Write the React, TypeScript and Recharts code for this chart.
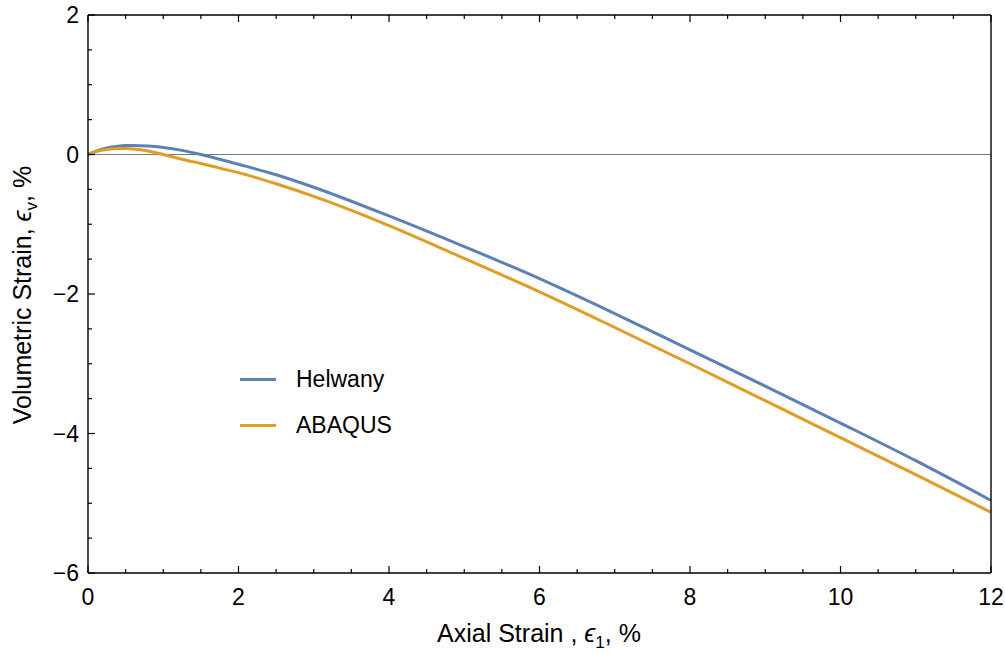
import React from "react"
import { LineChart, Line, XAxis, YAxis, ReferenceLine } from "recharts"

// axial strain (%) sample points
const strainPts = [0, 0.1, 0.2, 0.3, 0.4, 0.5, 0.6, 0.8, 1.0, 1.25, 1.5, 1.75, 2, 2.5, 3, 3.5, 4, 5, 6, 7, 8, 9, 10, 11, 12]
// volumetric strain (%)
const helwanyVals = [0, 0.045, 0.08, 0.105, 0.12, 0.128, 0.13, 0.121, 0.101, 0.059, 0.0, -0.068, -0.14, -0.29, -0.47, -0.67, -0.88, -1.32, -1.78, -2.28, -2.8, -3.32, -3.85, -4.39, -4.96]
const abaqusVals = [0, 0.038, 0.063, 0.078, 0.085, 0.085, 0.08, 0.051, 0.0, -0.068, -0.13, -0.195, -0.26, -0.42, -0.6, -0.8, -1.02, -1.49, -1.97, -2.48, -3.0, -3.53, -4.06, -4.59, -5.13]

const xTicks = [0, 0.5, 1, 1.5, 2, 2.5, 3, 3.5, 4, 4.5, 5, 5.5, 6, 6.5, 7, 7.5, 8, 8.5, 9, 9.5, 10, 10.5, 11, 11.5, 12]
const yTicks = [-6, -5.5, -5, -4.5, -4, -3.5, -3, -2.5, -2, -1.5, -1, -0.5, 0, 0.5, 1, 1.5, 2]

const seriesNames = ["Helwany", "ABAQUS"]
const colors = ["#5E81B5", "#E19C24"]

const data = strainPts.map((x, i) => ({ x, helwany: helwanyVals[i], abaqus: abaqusVals[i] }))

const FONT = "'Liberation Sans', Arial, sans-serif"
const isMajor = (v: number) => Math.abs(v % 2) < 1e-9
const fmt = (v: number) => (v < 0 ? `\u2212${Math.abs(v)}` : `${v}`)

function BottomTick(props: any) {
  const { x, y, payload } = props
  const v = payload.value
  const major = isMajor(v)
  return (
    <g>
      <line x1={x} x2={x} y1={y} y2={y - (major ? 7 : 4)} stroke="#000" strokeWidth={1.2} />
      {major && (
        <text x={x} y={y + 32} textAnchor="middle" fontSize={23} fontFamily={FONT} fill="#000">
          {v}
        </text>
      )}
    </g>
  )
}

function TopTick(props: any) {
  const { x, y, payload } = props
  const major = isMajor(payload.value)
  return <line x1={x} x2={x} y1={y} y2={y + (major ? 7 : 4)} stroke="#000" strokeWidth={1.2} />
}

function LeftTick(props: any) {
  const { x, y, payload } = props
  const v = payload.value
  const major = isMajor(v)
  return (
    <g>
      <line x1={x} x2={x + (major ? 7 : 4)} y1={y} y2={y} stroke="#000" strokeWidth={1.2} />
      {major && (
        <text x={x - 9} y={y + 8} textAnchor="end" fontSize={23} fontFamily={FONT} fill="#000">
          {fmt(v)}
        </text>
      )}
    </g>
  )
}

function RightTick(props: any) {
  const { x, y, payload } = props
  const major = isMajor(payload.value)
  return <line x1={x} x2={x - (major ? 7 : 4)} y1={y} y2={y} stroke="#000" strokeWidth={1.2} />
}

function LegendBox() {
  return (
    <div style={{ position: "absolute", left: 240, top: 356, fontFamily: FONT, fontSize: 23, color: "#000" }}>
      {seriesNames.map((n, i) => (
        <div key={n} style={{ display: "flex", alignItems: "center", height: 46 }}>
          <div style={{ width: 36, height: 3, background: colors[i], marginRight: 20 }} />
          <span>{n}</span>
        </div>
      ))}
    </div>
  )
}

export default function App() {
  return (
    <div style={{ position: "absolute", left: 0, top: 0, width: 1005, height: 655, background: "#fff" }}>
      <LineChart width={1005} height={655} data={data} margin={{ top: 14, right: 13, bottom: 22, left: 28 }}>
        <XAxis
          dataKey="x"
          type="number"
          domain={[0, 12]}
          ticks={xTicks}
          interval={0}
          height={60}
          tickSize={0}
          tickMargin={0}
          tick={<BottomTick />}
          axisLine={{ stroke: "#000", strokeWidth: 1.4 }}
          tickLine={false}
        />
        <XAxis
          xAxisId="top"
          orientation="top"
          dataKey="x"
          type="number"
          domain={[0, 12]}
          ticks={xTicks}
          interval={0}
          height={1}
          tickSize={0}
          tickMargin={0}
          tick={<TopTick />}
          axisLine={{ stroke: "#000", strokeWidth: 1.4 }}
          tickLine={false}
        />
        <YAxis
          type="number"
          domain={[-6, 2]}
          ticks={yTicks}
          interval={0}
          width={60}
          tickSize={0}
          tickMargin={0}
          tick={<LeftTick />}
          axisLine={{ stroke: "#000", strokeWidth: 1.4 }}
          tickLine={false}
        />
        <YAxis
          yAxisId="right"
          orientation="right"
          type="number"
          domain={[-6, 2]}
          ticks={yTicks}
          interval={0}
          width={1}
          tickSize={0}
          tickMargin={0}
          tick={<RightTick />}
          axisLine={{ stroke: "#000", strokeWidth: 1.4 }}
          tickLine={false}
        />
        <ReferenceLine y={0} stroke="#7a7a7a" strokeWidth={1} />
        <Line
          dataKey="helwany"
          name={seriesNames[0]}
          type="monotone"
          stroke={colors[0]}
          strokeWidth={3}
          dot={false}
          isAnimationActive={false}
        />
        <Line
          dataKey="abaqus"
          name={seriesNames[1]}
          type="monotone"
          stroke={colors[1]}
          strokeWidth={3}
          dot={false}
          isAnimationActive={false}
        />
      </LineChart>
      <LegendBox />
      <div
        style={{
          position: "absolute",
          left: 339,
          width: 400,
          top: 619,
          textAlign: "center",
          fontFamily: FONT,
          fontSize: 25,
          color: "#000",
        }}
      >
        Axial Strain , <i>ϵ</i>
        <sub style={{ fontSize: 17 }}>1</sub>, %
      </div>
      <div
        style={{
          position: "absolute",
          left: 25,
          top: 295,
          width: 400,
          textAlign: "center",
          fontFamily: FONT,
          fontSize: 25,
          color: "#000",
          transform: "translate(-50%, -50%) rotate(-90deg)",
        }}
      >
        Volumetric Strain, <i>ϵ</i>
        <sub style={{ fontSize: 17 }}>v</sub>, %
      </div>
    </div>
  )
}
